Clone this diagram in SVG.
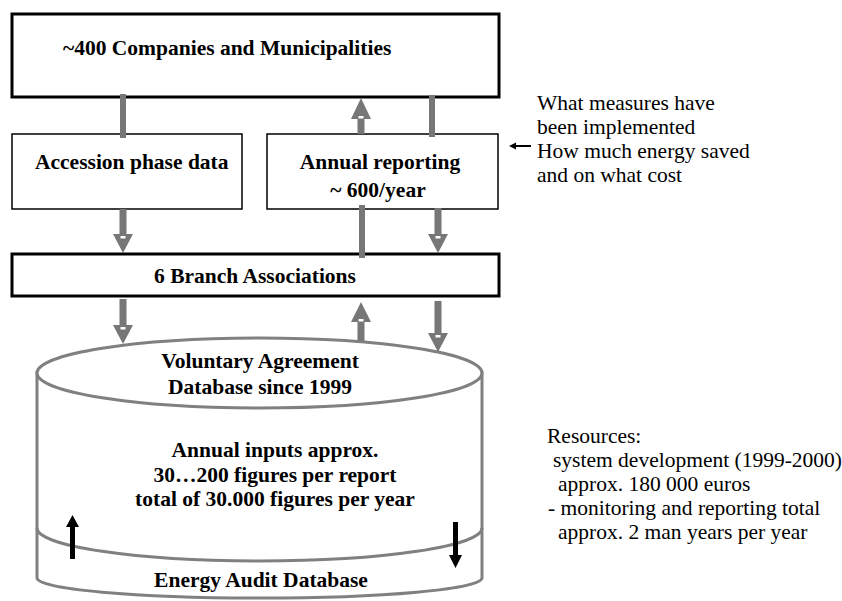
<svg xmlns="http://www.w3.org/2000/svg" width="842" height="601" viewBox="0 0 842 601">
<style>
.b{font-family:"Liberation Serif","Times New Roman",serif;font-weight:bold;font-size:21.5px;fill:#000}
.r{font-family:"Liberation Serif","Times New Roman",serif;font-size:21.5px;fill:#000}
.m{text-anchor:middle}
.thick{fill:#fff;stroke:#000;stroke-width:3}
.thin{fill:#fff;stroke:#000;stroke-width:1.5}
.g{fill:#777}
.w{fill:#fff}
.cyl{fill:#fff;stroke:#808080;stroke-width:3}
.cl{fill:none;stroke:#808080;stroke-width:3}
</style>
<rect width="842" height="601" fill="#fff"/>
<g id="companies">
<rect class="thick" x="12" y="14" width="487" height="83"/>
<text class="b" x="63" y="55">~400 Companies and Municipalities</text>
</g>
<g id="accession">
<rect class="thin" x="12" y="134" width="230" height="75"/>
<text class="b" x="35" y="169">Accession phase data</text>
</g>
<g id="annual">
<rect class="thin" x="267" y="134" width="231" height="75"/>
<text class="b m" x="380" y="169">Annual reporting</text>
<text class="b m" x="378" y="197">~ 600/year</text>
</g>
<g id="branch">
<rect class="thick" x="12" y="254" width="487" height="42"/>
<text class="b m" x="255" y="283">6 Branch Associations</text>
</g>
<g id="database">
<path class="cyl" d="M37,373 L37,578 A222.5,20 0 0 0 482,578 L482,373 Z"/>
<ellipse class="cyl" cx="259.5" cy="373" rx="222.5" ry="35"/>
<path class="cl" d="M37,528 A222.5,33 0 0 0 482,528"/>
<text class="b m" x="260" y="368">Voluntary Agreement</text>
<text class="b m" x="260" y="394">Database since 1999</text>
<text class="b m" x="275" y="457">Annual inputs approx.</text>
<text class="b m" x="275" y="482">30…200 figures per report</text>
<text class="b m" x="275" y="506">total of 30.000 figures per year</text>
<text class="b m" x="261" y="587">Energy Audit Database</text>
<path fill="#000" d="M70,559 L70,527 L66,527 L72.5,515 L79,527 L75,527 L75,559 Z"/>
<path fill="#000" d="M453,522 L453,555 L449,555 L455.5,568 L462,555 L458,555 L458,522 Z"/>
</g>
<g id="measures-note">
<text class="r" x="537" y="110">What measures have</text>
<text class="r" x="537" y="134">been implemented</text>
<text class="r" x="537" y="158">How much energy saved</text>
<text class="r" x="537" y="182">and on what cost</text>
</g>
<g id="resources-note">
<text class="r" x="547" y="443">Resources:</text>
<text class="r" x="553" y="467">system development (1999-2000)</text>
<text class="r" x="558" y="491">approx. 180 000 euros</text>
<text class="r" x="548" y="515">- monitoring and reporting total</text>
<text class="r" x="558" y="539">approx. 2 man years per year</text>
</g>
<g id="connectors">
<!-- plain links -->
<rect class="g" x="120" y="94" width="6" height="44"/>
<rect class="g" x="429" y="95" width="6" height="42"/>
<rect class="g" x="359" y="205" width="6" height="53"/>
<!-- down arrows -->
<path class="g" d="M119.5,209 L126.5,209 L126.5,324 L133,324 L123,343 L113,324 L119.5,324 Z" transform="translate(0,-90)" visibility="hidden"/>
<path class="g" d="M119.5,209 L126.5,209 L126.5,234 L133,234 L123,253 L113,234 L119.5,234 Z"/>
<rect class="w" x="120.5" y="236" width="5" height="2.5"/>
<path class="g" d="M119.5,299 L126.5,299 L126.5,325 L133,325 L123,344 L113,325 L119.5,325 Z"/>
<rect class="w" x="120.5" y="327" width="5" height="2.5"/>
<path class="g" d="M434.5,208 L441.5,208 L441.5,234 L448,234 L438,253 L428,234 L434.5,234 Z"/>
<rect class="w" x="435.5" y="236" width="5" height="2.5"/>
<path class="g" d="M434.5,301 L441.5,301 L441.5,333 L448,333 L438,352 L428,333 L434.5,333 Z"/>
<rect class="w" x="435.5" y="335" width="5" height="2.5"/>
<!-- up arrows -->
<path class="g" d="M357.5,134 L364.5,134 L364.5,119 L371,119 L361,98 L351,119 L357.5,119 Z"/>
<rect class="w" x="358.5" y="116" width="5" height="2.5"/>
<path class="g" d="M357.5,341 L364.5,341 L364.5,322 L371,322 L361,302 L351,322 L357.5,322 Z"/>
<rect class="w" x="358.5" y="319" width="5" height="2.5"/>
<!-- note arrow -->
<line x1="531" y1="146" x2="514" y2="146" stroke="#000" stroke-width="2"/>
<path fill="#000" d="M509,146 L516,142.5 L516,149.5 Z"/>
</g>
</svg>
